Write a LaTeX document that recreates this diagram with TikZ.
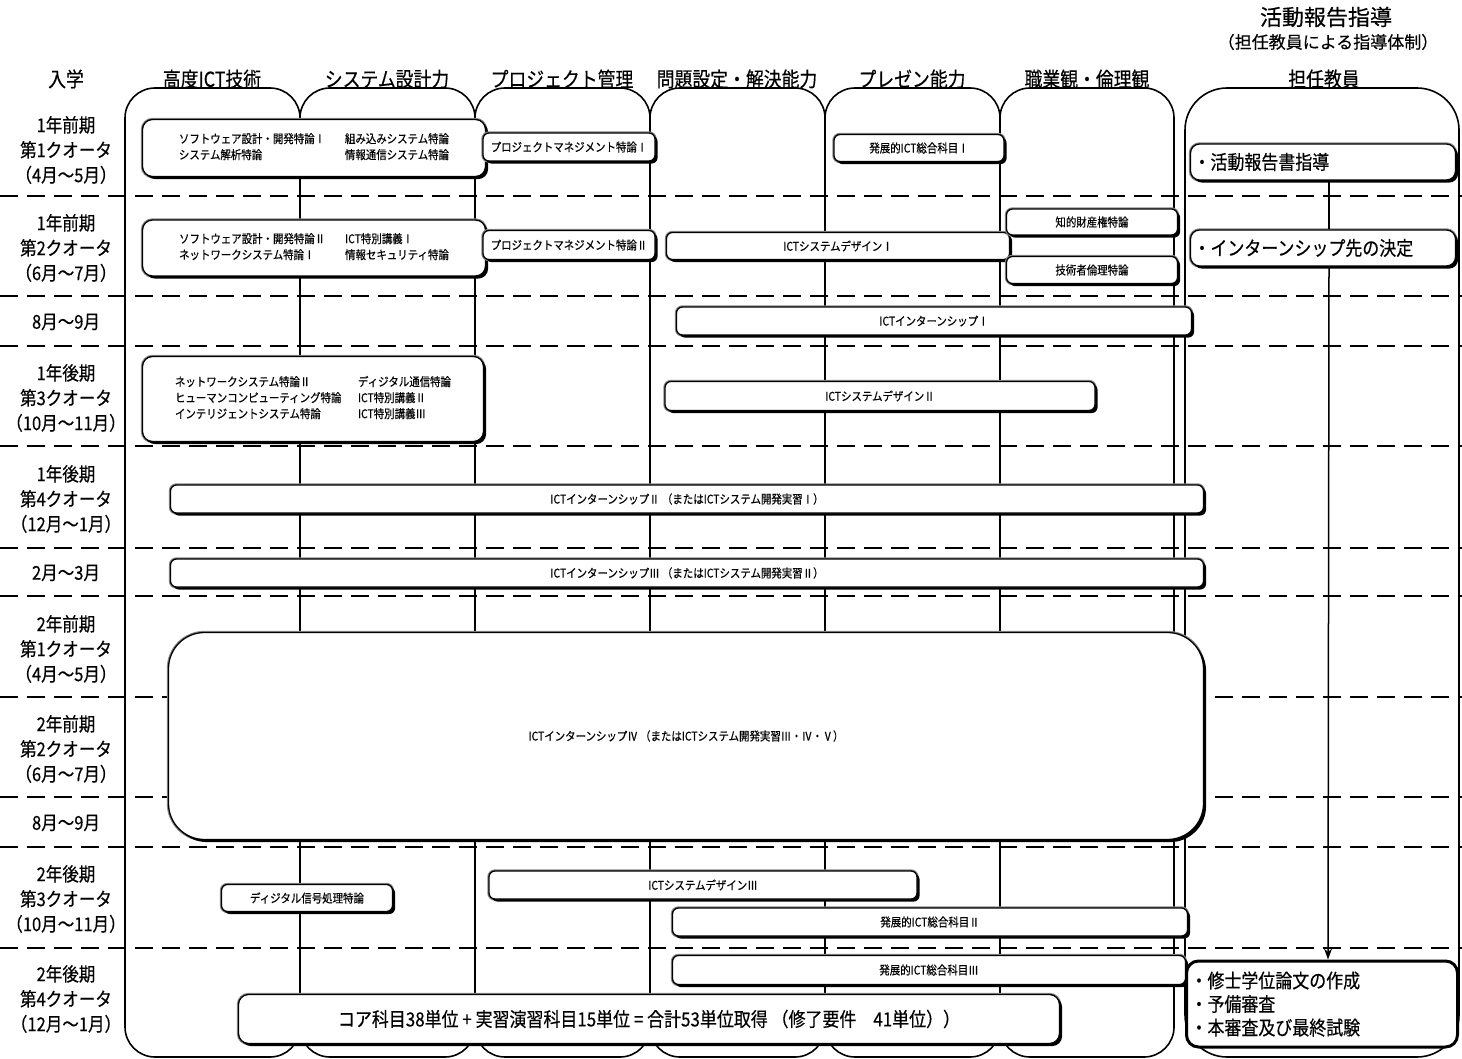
\documentclass[tikz,border=0pt]{standalone}
\usepackage{fontspec}
\setmainfont[FakeStretch=0.87, FakeBold=0.4]{Noto Sans CJK JP}
\newfontfamily\titlefont[FakeBold=0.4]{Noto Sans CJK JP}
\usepackage{xcolor}
\definecolor{EdgeGray}{HTML}{8A8A8A}
\usepackage{tikz}
\usetikzlibrary{shadows, arrows.meta, positioning}
\tikzset{
  % Lane and grid styles
  lane/.style={draw, line width=1.6pt, rounded corners=30pt},
  sepline/.style={line width=1.9pt, dash pattern=on 18pt off 9pt},
  % Label styles
  rowlabel/.style={font=\fontsize{19}{25}\selectfont, align=center, inner sep=0pt},
  colhead/.style={font=\fontsize{20.5}{24}\selectfont, inner sep=0pt},
  % Box styles
  coursebox/.style={rectangle, rounded corners=6pt, preaction={draw=EdgeGray, line width=3.4pt}, drop shadow={shadow xshift=2.6pt, shadow yshift=-2.6pt, opacity=1, fill=black}, draw=black, line width=1.3pt, fill=white, font=\fontsize{12}{16}\selectfont, align=center, inner sep=0pt},
  groupbox/.style={coursebox, rounded corners=10pt},
  teacherbox/.style={coursebox, rounded corners=9pt, font=\fontsize{19.5}{23.5}\selectfont, align=left, text width=259pt, inner xsep=3pt},
  thesisbox/.style={rectangle, rounded corners=12pt, draw=black, line width=3pt, fill=white, font=\fontsize{19.5}{23.5}\selectfont, align=left, text width=263pt, inner xsep=4pt},
  sumbox/.style={coursebox, rounded corners=10pt, font=\fontsize{19.5}{24}\selectfont},
  % Arrow styles
  guideline/.style={line width=1.5pt},
  guidearrow/.style={-{Stealth[length=11pt, width=8pt]}, line width=1.5pt}
}

\begin{document}
\begin{tikzpicture}[x=1pt, y=-1pt]
  \useasboundingbox (0,0) rectangle (1462,1059);

  % Lanes
  \draw[lane] (125,88) rectangle (300,1057);
  \draw[lane] (300,88) rectangle (475,1057);
  \draw[lane] (475,88) rectangle (650,1057);
  \draw[lane] (650,88) rectangle (825,1057);
  \draw[lane] (825,88) rectangle (1000,1057);
  \draw[lane] (1000,88) rectangle (1174,1057);
  \draw[lane, rounded corners=42pt] (1185,88) rectangle (1459,1057);

  % Quarter separators
  \draw[sepline] (0,196) -- (1462,196) (0,296) -- (1462,296) (0,346) -- (1462,346)
    (0,446) -- (1462,446) (0,548) -- (1462,548) (0,596) -- (1462,596)
    (0,697) -- (1462,697) (0,797) -- (1462,797) (0,847) -- (1462,847)
    (0,948) -- (1462,948);

  % Title and column heads
  \node[font=\titlefont\fontsize{22}{26}\selectfont] (title) at (1326,17) {活動報告指導};
  \node[font=\titlefont\fontsize{17}{20}\selectfont] (subtitle) at (1328,42) {（担任教員による指導体制）};
  \node[colhead] (hadm) at (66,79) {入学};
  \node[colhead] (hict) at (212,79) {高度ICT技術};
  \node[colhead] (hsys) at (387,79) {システム設計力};
  \node[colhead] (hpm) at (562,79) {プロジェクト管理};
  \node[colhead] (hprob) at (737,79) {問題設定・解決能力};
  \node[colhead] (hpres) at (912,79) {プレゼン能力};
  \node[colhead] (heth) at (1087,79) {職業観・倫理観};
  \node[colhead] (htut) at (1324,79) {担任教員};

  % Quarter labels
  \node[rowlabel] (q1) at (66,150) {1年前期\\第1クオータ\\（4月～5月）};
  \node[rowlabel] (q2) at (66,248) {1年前期\\第2クオータ\\（6月～7月）};
  \node[rowlabel] (q3) at (66,322) {8月～9月};
  \node[rowlabel] (q4) at (66,398) {1年後期\\第3クオータ\\（10月～11月）};
  \node[rowlabel] (q5) at (66,499) {1年後期\\第4クオータ\\（12月～1月）};
  \node[rowlabel] (q6) at (66,573) {2月～3月};
  \node[rowlabel] (q7) at (66,649) {2年前期\\第1クオータ\\（4月～5月）};
  \node[rowlabel] (q8) at (66,749) {2年前期\\第2クオータ\\（6月～7月）};
  \node[rowlabel] (q9) at (66,823) {8月～9月};
  \node[rowlabel] (q10) at (66,899) {2年後期\\第3クオータ\\（10月～11月）};
  \node[rowlabel] (q11) at (66,999) {2年後期\\第4クオータ\\（12月～1月）};

  % First year, quarter 1
  \node[groupbox, minimum width=343, minimum height=57] (core1) at (314,148)
    {\begin{tabular}{@{}p{166pt}@{}l@{}}ソフトウェア設計・開発特論Ⅰ & 組み込みシステム特論\\システム解析特論 & 情報通信システム特論\end{tabular}};
  \node[coursebox, minimum width=172, minimum height=28] (pm1) at (569,147) {プロジェクトマネジメント特論Ⅰ};
  \node[coursebox, minimum width=170, minimum height=27] (adv1) at (919,148) {発展的ICT総合科目Ⅰ};
  \node[teacherbox, minimum height=36] (report) at (1323,162) {・活動報告書指導};

  % First year, quarter 2
  \node[groupbox, minimum width=343, minimum height=56] (core2) at (314,248)
    {\begin{tabular}{@{}p{166pt}@{}l@{}}ソフトウェア設計・開発特論Ⅱ & ICT特別講義Ⅰ\\ネットワークシステム特論Ⅰ & 情報セキュリティ特論\end{tabular}};
  \node[coursebox, minimum width=172, minimum height=29] (pm2) at (569,245) {プロジェクトマネジメント特論Ⅱ};
  \node[coursebox, minimum width=343, minimum height=27] (design1) at (838,246) {ICTシステムデザインⅠ};
  \node[coursebox, minimum width=171, minimum height=26] (ipr) at (1092,222) {知的財産権特論};
  \node[coursebox, minimum width=171, minimum height=27] (ethics) at (1092,270) {技術者倫理特論};
  \node[teacherbox, minimum height=36] (intern) at (1323,248) {・インターンシップ先の決定};

  % Summer
  \node[coursebox, minimum width=515, minimum height=28] (ship1) at (934,321) {ICTインターンシップⅠ};

  % First year, quarter 3
  \node[groupbox, minimum width=341, minimum height=85] (core3) at (313,399)
    {\begin{tabular}{@{}p{183pt}@{}l@{}}ネットワークシステム特論Ⅱ & ディジタル通信特論\\ヒューマンコンピューティング特論 & ICT特別講義Ⅱ\\インテリジェントシステム特論 & ICT特別講義Ⅲ\end{tabular}};
  \node[coursebox, minimum width=430, minimum height=29] (design2) at (880,396) {ICTシステムデザインⅡ};

  % First year, quarter 4 and spring
  \node[coursebox, minimum width=1033, minimum height=28] (ship2) at (687,499) {ICTインターンシップⅡ （またはICTシステム開発実習Ⅰ）};
  \node[coursebox, minimum width=1033, minimum height=28] (ship3) at (687,573) {ICTインターンシップⅢ （またはICTシステム開発実習Ⅱ）};

  % Second year, first half
  \node[coursebox, rounded corners=36pt, minimum width=1035, minimum height=207] (ship4) at (686,736) {ICTインターンシップⅣ （またはICTシステム開発実習Ⅲ・Ⅳ・Ⅴ）};

  % Second year, second half
  \node[coursebox, minimum width=171, minimum height=27] (dsp) at (307,898) {ディジタル信号処理特論};
  \node[coursebox, minimum width=428, minimum height=28] (design3) at (703,885) {ICTシステムデザインⅢ};
  \node[coursebox, minimum width=515, minimum height=28] (adv2) at (930,922) {発展的ICT総合科目Ⅱ};
  \node[coursebox, minimum width=513, minimum height=29] (adv3) at (929,970) {発展的ICT総合科目Ⅲ};
  \node[sumbox, minimum width=821, minimum height=49] (total) at (649,1019) {コア科目38単位 + 実習演習科目15単位 = 合計53単位取得 （修了要件　41単位））};
  \node[thesisbox, minimum height=86] (thesis) at (1322,1004) {・修士学位論文の作成\\・予備審査\\・本審査及び最終試験};

  % Tutor guidance
  \draw[guideline] ([xshift=6pt]report.south) -- ([xshift=6pt]intern.north);
  \draw[guidearrow] ([xshift=6pt]intern.south) -- ([xshift=6pt]thesis.north);
\end{tikzpicture}
\end{document}
